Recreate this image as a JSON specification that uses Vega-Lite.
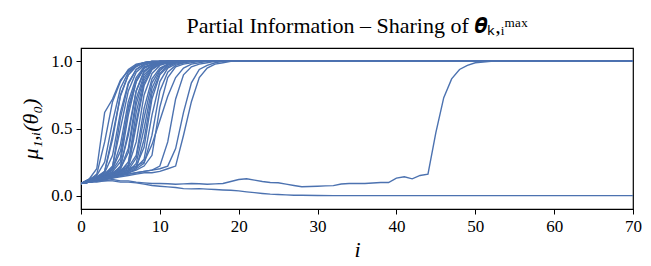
{
"$schema":"https://vega.github.io/schema/vega-lite/v6.json",
"width":552,"height":161,
"autosize":{"type":"none"},
"padding":{"left":81,"top":48,"right":18,"bottom":57},
"background":"white",
"title":{"text":"Partial Information – Sharing of 𝜽ₖ,ᵢᵐᵃˣ","font":"Liberation Serif","fontSize":22,"fontWeight":"normal","color":"black","anchor":"middle","frame":"group","offset":10},
"config":{"view":{"stroke":"black","strokeWidth":1.2},"axis":{"labelFont":"Liberation Serif","titleFont":"Liberation Serif","labelFontSize":17,"titleFontSize":22,"titleFontWeight":"normal","labelColor":"black","titleColor":"black","domainColor":"black","tickColor":"black","tickSize":5,"grid":false}},
"data":{"values":[
{"s":1,"i":0,"v":0.09},{"s":1,"i":1,"v":0.12},{"s":1,"i":2,"v":0.2},{"s":1,"i":3,"v":0.62},{"s":1,"i":4,"v":0.72},{"s":1,"i":5,"v":0.86},{"s":1,"i":6,"v":0.93},{"s":1,"i":7,"v":0.97},{"s":1,"i":8,"v":0.99},{"s":1,"i":9,"v":1.0},{"s":1,"i":70,"v":1.0},
{"s":2,"i":0,"v":0.09},{"s":2,"i":1,"v":0.11},{"s":2,"i":2,"v":0.16},{"s":2,"i":3,"v":0.4},{"s":2,"i":4,"v":0.7},{"s":2,"i":5,"v":0.85},{"s":2,"i":6,"v":0.94},{"s":2,"i":7,"v":0.98},{"s":2,"i":8,"v":0.99},{"s":2,"i":9,"v":1.0},{"s":2,"i":70,"v":1.0},
{"s":3,"i":0,"v":0.09},{"s":3,"i":1,"v":0.12},{"s":3,"i":2,"v":0.15},{"s":3,"i":3,"v":0.25},{"s":3,"i":4,"v":0.55},{"s":3,"i":5,"v":0.8},{"s":3,"i":6,"v":0.92},{"s":3,"i":7,"v":0.97},{"s":3,"i":8,"v":0.99},{"s":3,"i":9,"v":1.0},{"s":3,"i":70,"v":1.0},
{"s":4,"i":0,"v":0.09},{"s":4,"i":1,"v":0.1},{"s":4,"i":2,"v":0.13},{"s":4,"i":3,"v":0.18},{"s":4,"i":4,"v":0.45},{"s":4,"i":5,"v":0.74},{"s":4,"i":6,"v":0.9},{"s":4,"i":7,"v":0.96},{"s":4,"i":8,"v":0.99},{"s":4,"i":9,"v":1.0},{"s":4,"i":70,"v":1.0},
{"s":5,"i":0,"v":0.09},{"s":5,"i":1,"v":0.11},{"s":5,"i":2,"v":0.14},{"s":5,"i":3,"v":0.17},{"s":5,"i":4,"v":0.3},{"s":5,"i":5,"v":0.62},{"s":5,"i":6,"v":0.84},{"s":5,"i":7,"v":0.94},{"s":5,"i":8,"v":0.98},{"s":5,"i":9,"v":0.99},{"s":5,"i":10,"v":1.0},{"s":5,"i":70,"v":1.0},
{"s":6,"i":0,"v":0.09},{"s":6,"i":1,"v":0.12},{"s":6,"i":2,"v":0.13},{"s":6,"i":3,"v":0.16},{"s":6,"i":4,"v":0.22},{"s":6,"i":5,"v":0.5},{"s":6,"i":6,"v":0.78},{"s":6,"i":7,"v":0.92},{"s":6,"i":8,"v":0.97},{"s":6,"i":9,"v":0.99},{"s":6,"i":10,"v":1.0},{"s":6,"i":70,"v":1.0},
{"s":7,"i":0,"v":0.09},{"s":7,"i":1,"v":0.1},{"s":7,"i":2,"v":0.12},{"s":7,"i":3,"v":0.15},{"s":7,"i":4,"v":0.2},{"s":7,"i":5,"v":0.38},{"s":7,"i":6,"v":0.7},{"s":7,"i":7,"v":0.88},{"s":7,"i":8,"v":0.96},{"s":7,"i":9,"v":0.98},{"s":7,"i":10,"v":1.0},{"s":7,"i":70,"v":1.0},
{"s":8,"i":0,"v":0.09},{"s":8,"i":1,"v":0.11},{"s":8,"i":2,"v":0.13},{"s":8,"i":3,"v":0.14},{"s":8,"i":4,"v":0.18},{"s":8,"i":5,"v":0.25},{"s":8,"i":6,"v":0.6},{"s":8,"i":7,"v":0.85},{"s":8,"i":8,"v":0.95},{"s":8,"i":9,"v":0.98},{"s":8,"i":10,"v":0.99},{"s":8,"i":11,"v":1.0},{"s":8,"i":70,"v":1.0},
{"s":9,"i":0,"v":0.09},{"s":9,"i":1,"v":0.1},{"s":9,"i":2,"v":0.12},{"s":9,"i":3,"v":0.13},{"s":9,"i":4,"v":0.16},{"s":9,"i":5,"v":0.22},{"s":9,"i":6,"v":0.45},{"s":9,"i":7,"v":0.78},{"s":9,"i":8,"v":0.92},{"s":9,"i":9,"v":0.97},{"s":9,"i":10,"v":0.99},{"s":9,"i":11,"v":1.0},{"s":9,"i":70,"v":1.0},
{"s":10,"i":0,"v":0.09},{"s":10,"i":1,"v":0.11},{"s":10,"i":2,"v":0.12},{"s":10,"i":3,"v":0.15},{"s":10,"i":4,"v":0.17},{"s":10,"i":5,"v":0.2},{"s":10,"i":6,"v":0.32},{"s":10,"i":7,"v":0.68},{"s":10,"i":8,"v":0.88},{"s":10,"i":9,"v":0.96},{"s":10,"i":10,"v":0.99},{"s":10,"i":11,"v":1.0},{"s":10,"i":70,"v":1.0},
{"s":11,"i":0,"v":0.09},{"s":11,"i":1,"v":0.1},{"s":11,"i":2,"v":0.11},{"s":11,"i":3,"v":0.13},{"s":11,"i":4,"v":0.15},{"s":11,"i":5,"v":0.18},{"s":11,"i":6,"v":0.25},{"s":11,"i":7,"v":0.55},{"s":11,"i":8,"v":0.84},{"s":11,"i":9,"v":0.94},{"s":11,"i":10,"v":0.98},{"s":11,"i":11,"v":0.99},{"s":11,"i":12,"v":1.0},{"s":11,"i":70,"v":1.0},
{"s":12,"i":0,"v":0.09},{"s":12,"i":1,"v":0.1},{"s":12,"i":2,"v":0.12},{"s":12,"i":3,"v":0.14},{"s":12,"i":4,"v":0.15},{"s":12,"i":5,"v":0.17},{"s":12,"i":6,"v":0.22},{"s":12,"i":7,"v":0.4},{"s":12,"i":8,"v":0.75},{"s":12,"i":9,"v":0.91},{"s":12,"i":10,"v":0.97},{"s":12,"i":11,"v":0.99},{"s":12,"i":12,"v":1.0},{"s":12,"i":70,"v":1.0},
{"s":13,"i":0,"v":0.09},{"s":13,"i":1,"v":0.11},{"s":13,"i":2,"v":0.13},{"s":13,"i":3,"v":0.14},{"s":13,"i":4,"v":0.16},{"s":13,"i":5,"v":0.19},{"s":13,"i":6,"v":0.21},{"s":13,"i":7,"v":0.3},{"s":13,"i":8,"v":0.65},{"s":13,"i":9,"v":0.87},{"s":13,"i":10,"v":0.95},{"s":13,"i":11,"v":0.98},{"s":13,"i":12,"v":1.0},{"s":13,"i":70,"v":1.0},
{"s":14,"i":0,"v":0.09},{"s":14,"i":1,"v":0.1},{"s":14,"i":2,"v":0.11},{"s":14,"i":3,"v":0.12},{"s":14,"i":4,"v":0.14},{"s":14,"i":5,"v":0.16},{"s":14,"i":6,"v":0.18},{"s":14,"i":7,"v":0.24},{"s":14,"i":8,"v":0.5},{"s":14,"i":9,"v":0.8},{"s":14,"i":10,"v":0.93},{"s":14,"i":11,"v":0.98},{"s":14,"i":12,"v":0.99},{"s":14,"i":13,"v":1.0},{"s":14,"i":70,"v":1.0},
{"s":15,"i":0,"v":0.09},{"s":15,"i":1,"v":0.1},{"s":15,"i":2,"v":0.12},{"s":15,"i":3,"v":0.13},{"s":15,"i":4,"v":0.15},{"s":15,"i":5,"v":0.17},{"s":15,"i":6,"v":0.19},{"s":15,"i":7,"v":0.22},{"s":15,"i":8,"v":0.36},{"s":15,"i":9,"v":0.72},{"s":15,"i":10,"v":0.9},{"s":15,"i":11,"v":0.96},{"s":15,"i":12,"v":0.99},{"s":15,"i":13,"v":1.0},{"s":15,"i":70,"v":1.0},
{"s":16,"i":0,"v":0.09},{"s":16,"i":1,"v":0.11},{"s":16,"i":2,"v":0.12},{"s":16,"i":3,"v":0.14},{"s":16,"i":4,"v":0.15},{"s":16,"i":5,"v":0.16},{"s":16,"i":6,"v":0.18},{"s":16,"i":7,"v":0.21},{"s":16,"i":8,"v":0.27},{"s":16,"i":9,"v":0.6},{"s":16,"i":10,"v":0.85},{"s":16,"i":11,"v":0.95},{"s":16,"i":12,"v":0.98},{"s":16,"i":13,"v":0.99},{"s":16,"i":14,"v":1.0},{"s":16,"i":70,"v":1.0},
{"s":17,"i":0,"v":0.09},{"s":17,"i":1,"v":0.1},{"s":17,"i":2,"v":0.11},{"s":17,"i":3,"v":0.13},{"s":17,"i":4,"v":0.14},{"s":17,"i":5,"v":0.15},{"s":17,"i":6,"v":0.17},{"s":17,"i":7,"v":0.2},{"s":17,"i":8,"v":0.24},{"s":17,"i":9,"v":0.45},{"s":17,"i":10,"v":0.78},{"s":17,"i":11,"v":0.92},{"s":17,"i":12,"v":0.97},{"s":17,"i":13,"v":0.99},{"s":17,"i":14,"v":1.0},{"s":17,"i":70,"v":1.0},
{"s":18,"i":0,"v":0.09},{"s":18,"i":1,"v":0.1},{"s":18,"i":2,"v":0.12},{"s":18,"i":3,"v":0.13},{"s":18,"i":4,"v":0.14},{"s":18,"i":5,"v":0.16},{"s":18,"i":6,"v":0.17},{"s":18,"i":7,"v":0.19},{"s":18,"i":8,"v":0.22},{"s":18,"i":9,"v":0.3},{"s":18,"i":10,"v":0.66},{"s":18,"i":11,"v":0.88},{"s":18,"i":12,"v":0.96},{"s":18,"i":13,"v":0.98},{"s":18,"i":14,"v":0.99},{"s":18,"i":15,"v":1.0},{"s":18,"i":70,"v":1.0},
{"s":19,"i":0,"v":0.09},{"s":19,"i":1,"v":0.11},{"s":19,"i":2,"v":0.13},{"s":19,"i":3,"v":0.15},{"s":19,"i":4,"v":0.17},{"s":19,"i":5,"v":0.21},{"s":19,"i":6,"v":0.48},{"s":19,"i":7,"v":0.78},{"s":19,"i":8,"v":0.93},{"s":19,"i":9,"v":0.97},{"s":19,"i":10,"v":0.99},{"s":19,"i":11,"v":1.0},{"s":19,"i":70,"v":1.0},
{"s":20,"i":0,"v":0.09},{"s":20,"i":1,"v":0.12},{"s":20,"i":2,"v":0.14},{"s":20,"i":3,"v":0.18},{"s":20,"i":4,"v":0.42},{"s":20,"i":5,"v":0.75},{"s":20,"i":6,"v":0.9},{"s":20,"i":7,"v":0.97},{"s":20,"i":8,"v":0.99},{"s":20,"i":9,"v":1.0},{"s":20,"i":70,"v":1.0},
{"s":21,"i":0,"v":0.09},{"s":21,"i":1,"v":0.11},{"s":21,"i":2,"v":0.14},{"s":21,"i":3,"v":0.16},{"s":21,"i":4,"v":0.21},{"s":21,"i":5,"v":0.58},{"s":21,"i":6,"v":0.83},{"s":21,"i":7,"v":0.94},{"s":21,"i":8,"v":0.98},{"s":21,"i":9,"v":0.99},{"s":21,"i":10,"v":1.0},{"s":21,"i":70,"v":1.0},
{"s":22,"i":0,"v":0.09},{"s":22,"i":1,"v":0.1},{"s":22,"i":2,"v":0.13},{"s":22,"i":3,"v":0.15},{"s":22,"i":4,"v":0.19},{"s":22,"i":5,"v":0.28},{"s":22,"i":6,"v":0.66},{"s":22,"i":7,"v":0.86},{"s":22,"i":8,"v":0.95},{"s":22,"i":9,"v":0.98},{"s":22,"i":10,"v":1.0},{"s":22,"i":70,"v":1.0},
{"s":23,"i":0,"v":0.09},{"s":23,"i":1,"v":0.1},{"s":23,"i":2,"v":0.12},{"s":23,"i":3,"v":0.14},{"s":23,"i":4,"v":0.16},{"s":23,"i":5,"v":0.2},{"s":23,"i":6,"v":0.35},{"s":23,"i":7,"v":0.72},{"s":23,"i":8,"v":0.9},{"s":23,"i":9,"v":0.96},{"s":23,"i":10,"v":0.99},{"s":23,"i":11,"v":1.0},{"s":23,"i":70,"v":1.0},
{"s":24,"i":0,"v":0.09},{"s":24,"i":1,"v":0.11},{"s":24,"i":2,"v":0.12},{"s":24,"i":3,"v":0.13},{"s":24,"i":4,"v":0.15},{"s":24,"i":5,"v":0.18},{"s":24,"i":6,"v":0.21},{"s":24,"i":7,"v":0.52},{"s":24,"i":8,"v":0.82},{"s":24,"i":9,"v":0.94},{"s":24,"i":10,"v":0.98},{"s":24,"i":11,"v":0.99},{"s":24,"i":12,"v":1.0},{"s":24,"i":70,"v":1.0},
{"s":25,"i":0,"v":0.09},{"s":25,"i":1,"v":0.1},{"s":25,"i":2,"v":0.12},{"s":25,"i":3,"v":0.14},{"s":25,"i":4,"v":0.16},{"s":25,"i":5,"v":0.19},{"s":25,"i":6,"v":0.23},{"s":25,"i":7,"v":0.62},{"s":25,"i":8,"v":0.86},{"s":25,"i":9,"v":0.95},{"s":25,"i":10,"v":0.98},{"s":25,"i":11,"v":1.0},{"s":25,"i":70,"v":1.0},
{"s":26,"i":0,"v":0.09},{"s":26,"i":1,"v":0.1},{"s":26,"i":2,"v":0.11},{"s":26,"i":3,"v":0.12},{"s":26,"i":4,"v":0.14},{"s":26,"i":5,"v":0.15},{"s":26,"i":6,"v":0.17},{"s":26,"i":7,"v":0.2},{"s":26,"i":8,"v":0.42},{"s":26,"i":9,"v":0.76},{"s":26,"i":10,"v":0.91},{"s":26,"i":11,"v":0.97},{"s":26,"i":12,"v":0.99},{"s":26,"i":13,"v":1.0},{"s":26,"i":70,"v":1.0},
{"s":27,"i":0,"v":0.09},{"s":27,"i":1,"v":0.11},{"s":27,"i":2,"v":0.13},{"s":27,"i":3,"v":0.16},{"s":27,"i":4,"v":0.2},{"s":27,"i":5,"v":0.33},{"s":27,"i":6,"v":0.64},{"s":27,"i":7,"v":0.85},{"s":27,"i":8,"v":0.95},{"s":27,"i":9,"v":0.98},{"s":27,"i":10,"v":1.0},{"s":27,"i":70,"v":1.0},
{"s":28,"i":0,"v":0.09},{"s":28,"i":1,"v":0.1},{"s":28,"i":2,"v":0.12},{"s":28,"i":3,"v":0.13},{"s":28,"i":4,"v":0.15},{"s":28,"i":5,"v":0.17},{"s":28,"i":6,"v":0.19},{"s":28,"i":7,"v":0.28},{"s":28,"i":8,"v":0.58},{"s":28,"i":9,"v":0.84},{"s":28,"i":10,"v":0.94},{"s":28,"i":11,"v":0.98},{"s":28,"i":12,"v":0.99},{"s":28,"i":13,"v":1.0},{"s":28,"i":70,"v":1.0},
{"s":29,"i":0,"v":0.09},{"s":29,"i":1,"v":0.11},{"s":29,"i":2,"v":0.12},{"s":29,"i":3,"v":0.14},{"s":29,"i":4,"v":0.15},{"s":29,"i":5,"v":0.17},{"s":29,"i":6,"v":0.2},{"s":29,"i":7,"v":0.22},{"s":29,"i":8,"v":0.25},{"s":29,"i":9,"v":0.38},{"s":29,"i":10,"v":0.56},{"s":29,"i":11,"v":0.74},{"s":29,"i":12,"v":0.88},{"s":29,"i":13,"v":0.95},{"s":29,"i":14,"v":0.98},{"s":29,"i":15,"v":0.99},{"s":29,"i":16,"v":1.0},{"s":29,"i":70,"v":1.0},
{"s":30,"i":0,"v":0.09},{"s":30,"i":1,"v":0.1},{"s":30,"i":2,"v":0.11},{"s":30,"i":3,"v":0.12},{"s":30,"i":4,"v":0.13},{"s":30,"i":5,"v":0.15},{"s":30,"i":6,"v":0.16},{"s":30,"i":7,"v":0.17},{"s":30,"i":8,"v":0.18},{"s":30,"i":9,"v":0.19},{"s":30,"i":10,"v":0.2},{"s":30,"i":11,"v":0.22},{"s":30,"i":12,"v":0.35},{"s":30,"i":13,"v":0.62},{"s":30,"i":14,"v":0.84},{"s":30,"i":15,"v":0.94},{"s":30,"i":16,"v":0.97},{"s":30,"i":17,"v":0.99},{"s":30,"i":18,"v":1.0},{"s":30,"i":70,"v":1.0},
{"s":31,"i":0,"v":0.09},{"s":31,"i":1,"v":0.1},{"s":31,"i":2,"v":0.11},{"s":31,"i":3,"v":0.12},{"s":31,"i":4,"v":0.13},{"s":31,"i":5,"v":0.14},{"s":31,"i":6,"v":0.15},{"s":31,"i":7,"v":0.16},{"s":31,"i":8,"v":0.17},{"s":31,"i":9,"v":0.17},{"s":31,"i":10,"v":0.18},{"s":31,"i":11,"v":0.2},{"s":31,"i":12,"v":0.22},{"s":31,"i":13,"v":0.45},{"s":31,"i":14,"v":0.7},{"s":31,"i":15,"v":0.88},{"s":31,"i":16,"v":0.95},{"s":31,"i":17,"v":0.98},{"s":31,"i":18,"v":0.99},{"s":31,"i":19,"v":1.0},{"s":31,"i":70,"v":1.0},
{"s":32,"i":0,"v":0.09},{"s":32,"i":1,"v":0.1},{"s":32,"i":2,"v":0.11},{"s":32,"i":3,"v":0.13},{"s":32,"i":4,"v":0.14},{"s":32,"i":5,"v":0.15},{"s":32,"i":6,"v":0.16},{"s":32,"i":7,"v":0.17},{"s":32,"i":8,"v":0.18},{"s":32,"i":9,"v":0.19},{"s":32,"i":10,"v":0.22},{"s":32,"i":11,"v":0.4},{"s":32,"i":12,"v":0.72},{"s":32,"i":13,"v":0.9},{"s":32,"i":14,"v":0.96},{"s":32,"i":15,"v":0.98},{"s":32,"i":16,"v":0.99},{"s":32,"i":17,"v":1.0},{"s":32,"i":70,"v":1.0},
{"s":40,"i":0,"v":0.09},{"s":40,"i":1,"v":0.1},{"s":40,"i":2,"v":0.11},{"s":40,"i":3,"v":0.11},{"s":40,"i":4,"v":0.12},{"s":40,"i":5,"v":0.11},{"s":40,"i":6,"v":0.11},{"s":40,"i":7,"v":0.1},{"s":40,"i":8,"v":0.095},{"s":40,"i":9,"v":0.09},{"s":40,"i":10,"v":0.09},{"s":40,"i":11,"v":0.088},{"s":40,"i":12,"v":0.085},{"s":40,"i":13,"v":0.087},{"s":40,"i":14,"v":0.09},{"s":40,"i":15,"v":0.088},{"s":40,"i":16,"v":0.085},{"s":40,"i":17,"v":0.087},{"s":40,"i":18,"v":0.09},{"s":40,"i":19,"v":0.105},{"s":40,"i":20,"v":0.12},{"s":40,"i":21,"v":0.125},{"s":40,"i":22,"v":0.115},{"s":40,"i":23,"v":0.105},{"s":40,"i":24,"v":0.098},{"s":40,"i":25,"v":0.096},{"s":40,"i":26,"v":0.085},{"s":40,"i":27,"v":0.075},{"s":40,"i":28,"v":0.066},{"s":40,"i":29,"v":0.068},{"s":40,"i":30,"v":0.07},{"s":40,"i":31,"v":0.072},{"s":40,"i":32,"v":0.074},{"s":40,"i":33,"v":0.086},{"s":40,"i":34,"v":0.09},{"s":40,"i":35,"v":0.09},{"s":40,"i":36,"v":0.09},{"s":40,"i":37,"v":0.094},{"s":40,"i":38,"v":0.097},{"s":40,"i":39,"v":0.097},{"s":40,"i":40,"v":0.13},{"s":40,"i":41,"v":0.14},{"s":40,"i":42,"v":0.125},{"s":40,"i":43,"v":0.15},{"s":40,"i":44,"v":0.16},{"s":40,"i":45,"v":0.47},{"s":40,"i":46,"v":0.73},{"s":40,"i":47,"v":0.87},{"s":40,"i":48,"v":0.94},{"s":40,"i":49,"v":0.97},{"s":40,"i":50,"v":0.99},{"s":40,"i":51,"v":0.995},{"s":40,"i":52,"v":1.0},{"s":40,"i":70,"v":1.0},
{"s":41,"i":0,"v":0.09},{"s":41,"i":1,"v":0.1},{"s":41,"i":2,"v":0.1},{"s":41,"i":3,"v":0.11},{"s":41,"i":4,"v":0.11},{"s":41,"i":5,"v":0.1},{"s":41,"i":6,"v":0.1},{"s":41,"i":7,"v":0.095},{"s":41,"i":8,"v":0.085},{"s":41,"i":9,"v":0.075},{"s":41,"i":10,"v":0.07},{"s":41,"i":11,"v":0.065},{"s":41,"i":12,"v":0.06},{"s":41,"i":13,"v":0.052},{"s":41,"i":14,"v":0.05},{"s":41,"i":15,"v":0.052},{"s":41,"i":16,"v":0.048},{"s":41,"i":17,"v":0.045},{"s":41,"i":18,"v":0.042},{"s":41,"i":19,"v":0.04},{"s":41,"i":20,"v":0.035},{"s":41,"i":21,"v":0.028},{"s":41,"i":22,"v":0.022},{"s":41,"i":23,"v":0.016},{"s":41,"i":24,"v":0.011},{"s":41,"i":25,"v":0.008},{"s":41,"i":26,"v":0.005},{"s":41,"i":27,"v":0.003},{"s":41,"i":28,"v":0.002},{"s":41,"i":30,"v":0.001},{"s":41,"i":32,"v":0.0},{"s":41,"i":70,"v":0.0}
]},
"mark":{"type":"line","color":"#4c72b0","strokeWidth":1.4,"clip":true},
"encoding":{
"x":{"field":"i","type":"quantitative","scale":{"domain":[0,70],"nice":false,"zero":false},"axis":{"values":[0,10,20,30,40,50,60,70],"title":"i","titleFontStyle":"italic","labelPadding":4,"titlePadding":5,"labelFlush":false}},
"y":{"field":"v","type":"quantitative","scale":{"domain":[-0.1,1.1],"nice":false,"zero":false},"axis":{"values":[0,0.5,1],"format":".1f","title":"μ₁,ᵢ(θ₀)","titleFontStyle":"italic","labelPadding":4,"titlePadding":8}},
"detail":{"field":"s","type":"nominal"}
}
}
